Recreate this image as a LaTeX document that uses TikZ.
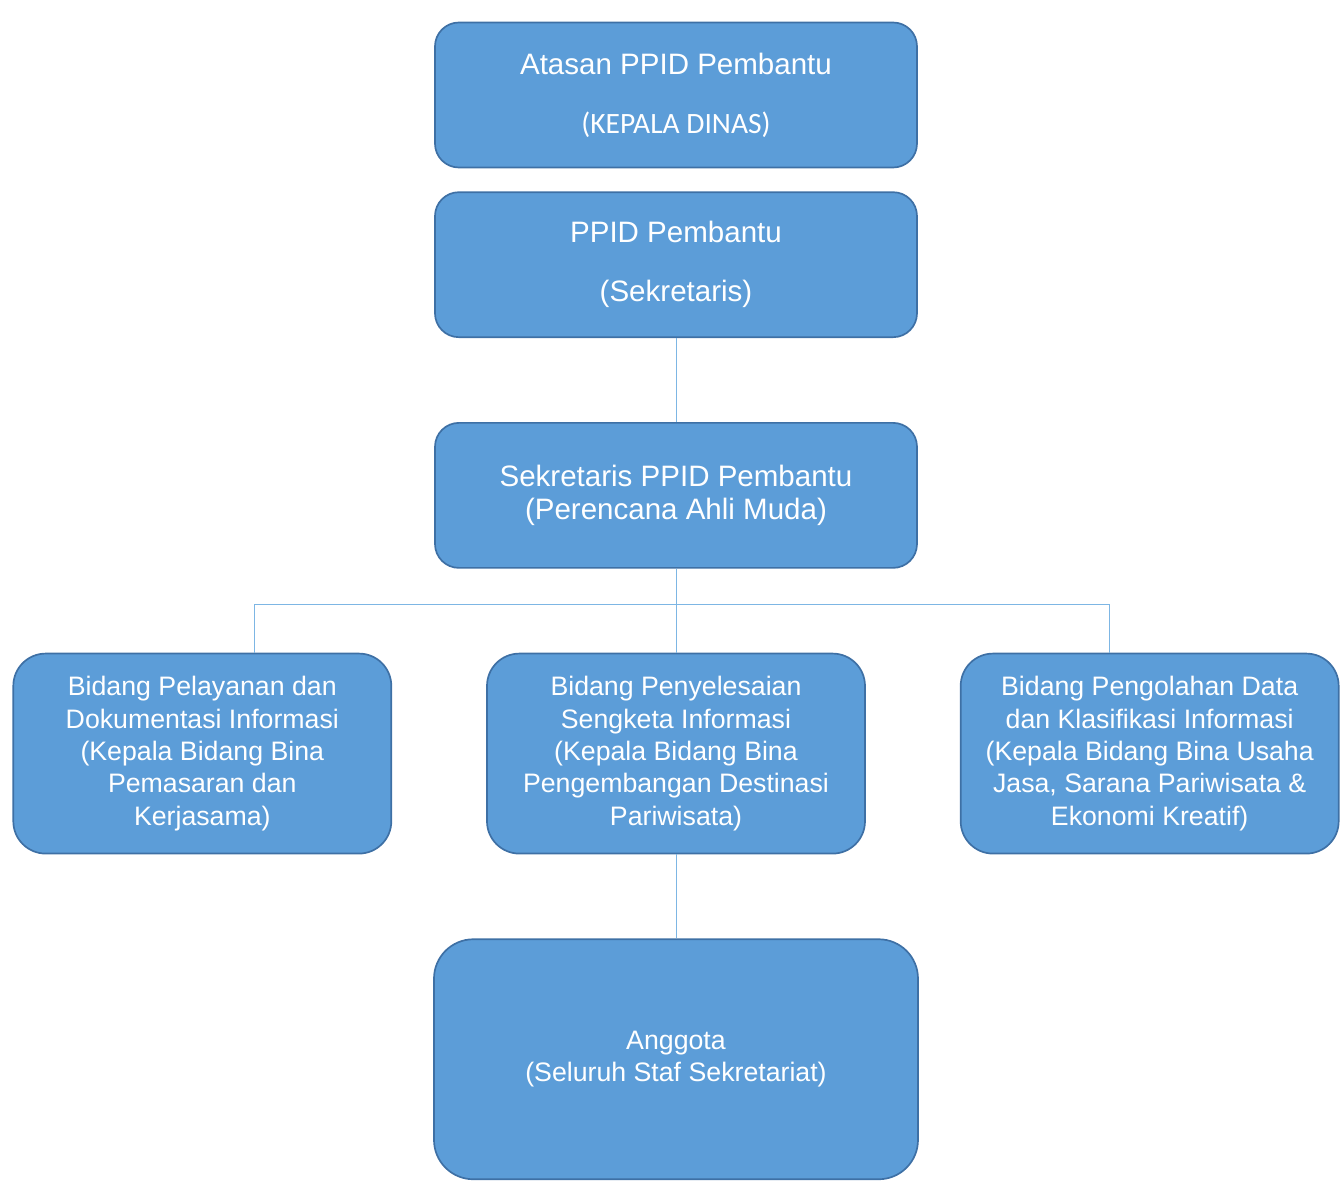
\documentclass[tikz,border=0pt]{standalone}
\usepackage{fontspec}
\setmainfont{Liberation Sans}
\newfontfamily\calibri{Carlito}
\usetikzlibrary{positioning}
\definecolor{boxblue}{RGB}{92,157,216}
\definecolor{boxedge}{RGB}{62,112,165}
\definecolor{linkblue}{RGB}{125,182,228}

\begin{document}
\begin{tikzpicture}[
    node distance=2.1cm and 2.35cm,
    unit/.style={draw=boxedge, line width=1.2pt, fill=boxblue, text=white, align=center},
    headbox/.style={unit, rounded corners=17pt, minimum width=12.05cm, minimum height=3.625cm, font=\fontsize{21}{25}\selectfont},
    bidbox/.style={unit, rounded corners=23pt, minimum width=9.45cm, minimum height=5cm, font=\fontsize{19}{23}\selectfont},
    staffbox/.style={unit, rounded corners=28pt, minimum width=12.1cm, minimum height=6cm, font=\fontsize{19}{23}\selectfont},
    link/.style={draw=linkblue, line width=0.6pt}
]
    \useasboundingbox (-16.9,2.375) rectangle (16.65,-27.125);
    % Nodes
    \node[headbox] (atasan) at (0,0) {Atasan PPID Pembantu\\[17pt]{\calibri (KEPALA DINAS)}};
    \node[headbox, below=0.575cm of atasan] (ppid) {PPID Pembantu\\[17pt](Sekretaris)};
    \node[headbox, below=of ppid, font=\fontsize{21}{23.5}\selectfont] (sekppid) {Sekretaris PPID Pembantu\\(Perencana Ahli Muda)};
    \node[bidbox, below=of sekppid] (bidang2) {Bidang Penyelesaian\\Sengketa Informasi\\(Kepala Bidang Bina\\Pengembangan Destinasi\\Pariwisata)};
    \node[bidbox, left=of bidang2] (bidang1) {Bidang Pelayanan dan\\Dokumentasi Informasi\\(Kepala Bidang Bina\\Pemasaran dan\\Kerjasama)};
    \node[bidbox, right=of bidang2] (bidang3) {Bidang Pengolahan Data\\dan Klasifikasi Informasi\\(Kepala Bidang Bina Usaha\\Jasa, Sarana Pariwisata \&\\Ekonomi Kreatif)};
    \node[staffbox, below=of bidang2] (anggota) {Anggota\\(Seluruh Staf Sekretariat)};

    % Lines
    \draw[link] (ppid) -- (sekppid);
    \draw[link] (sekppid) -- (bidang2);
    \draw[link] ([xshift=1.3cm]bidang1.north) -- ++(0,1.2) -| ([xshift=-1cm]bidang3.north);
    \draw[link] (bidang2) -- (anggota);
\end{tikzpicture}
\end{document}
